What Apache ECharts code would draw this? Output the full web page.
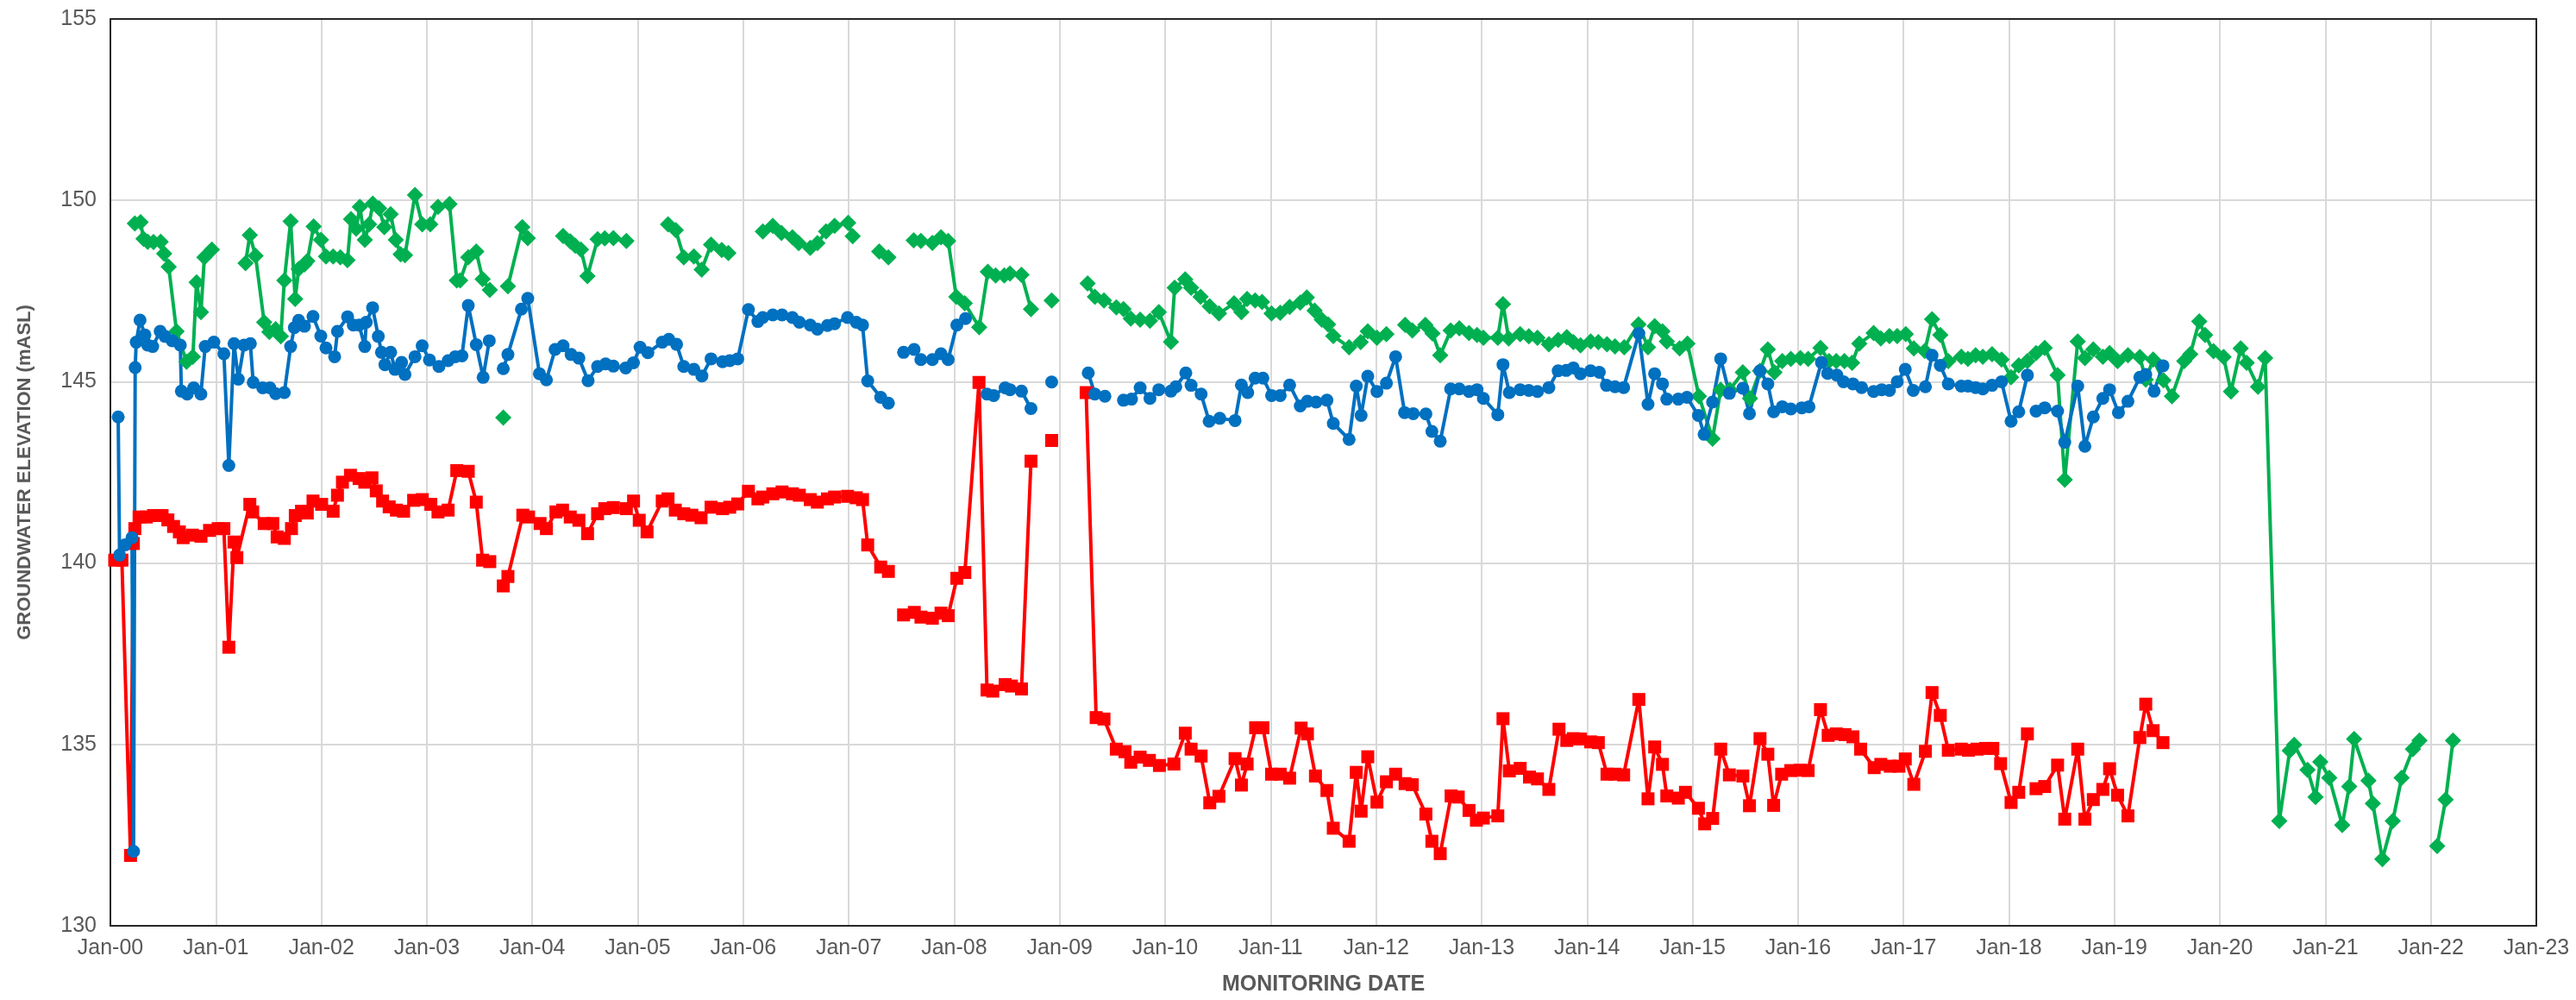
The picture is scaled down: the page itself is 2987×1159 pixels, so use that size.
<!DOCTYPE html>
<html>
<head>
<meta charset="utf-8">
<script src="https://cdn.jsdelivr.net/npm/echarts@6/dist/echarts.min.js"></script>
<style>
  html, body { margin: 0; padding: 0; background: #fff; }
  #chart { width: 2987px; height: 1159px; }
</style>
</head>
<body>
<div id="chart"></div>
<script>
// x = decimal year, y = groundwater elevation (mASL); null = no reading (line break)
const blueWell = [
  [2000.074,144.03],[2000.087,140.22],[2000.137,140.5],[2000.205,140.7],[2000.22,132.05],[2000.235,145.39],
  [2000.245,146.09],[2000.281,146.7],[2000.327,146.29],[2000.354,146.01],[2000.401,145.97],[2000.472,146.39],
  [2000.518,146.25],[2000.586,146.13],[2000.663,146.01],[2000.673,144.74],[2000.728,144.66],[2000.79,144.83],
  [2000.858,144.66],[2000.899,145.97],[2000.981,146.09],[2001.076,145.77],[2001.123,142.69],[2001.172,146.05],
  [2001.213,145.07],[2001.267,146.01],[2001.327,146.05],[2001.354,144.98],[2001.444,144.83],[2001.512,144.83],
  [2001.567,144.67],[2001.649,144.7],[2001.709,145.97],[2001.744,146.49],[2001.785,146.69],[2001.84,146.53],
  [2001.921,146.8],[2001.995,146.26],[2002.044,145.93],[2002.126,145.69],[2002.153,146.39],[2002.249,146.79],
  [2002.303,146.56],[2002.358,146.56],[2002.412,145.97],[2002.426,146.64],[2002.486,147.04],[2002.54,146.25],
  [2002.57,145.81],[2002.603,145.47],[2002.657,145.81],[2002.698,145.34],[2002.761,145.53],[2002.793,145.2],
  [2002.888,145.69],[2002.956,145.99],[2003.025,145.6],[2003.115,145.42],[2003.202,145.58],[2003.27,145.69],
  [2003.333,145.71],[2003.393,147.1],[2003.469,146.02],[2003.534,145.12],[2003.592,146.13],[2003.66,null],
  [2003.725,145.36],[2003.769,145.75],[2003.897,147.0],[2003.957,147.3],[2004.068,145.22],[2004.134,145.05],
  [2004.216,145.89],[2004.292,145.99],[2004.368,145.75],[2004.442,145.65],[2004.529,145.03],[2004.619,145.42],
  [2004.695,145.49],[2004.769,145.43],[2004.886,145.38],[2004.959,145.52],[2005.022,145.95],[2005.096,145.8],
  [2005.232,146.09],[2005.295,146.17],[2005.368,146.03],[2005.436,145.42],[2005.532,145.34],[2005.608,145.16],
  [2005.695,145.63],[2005.804,145.55],[2005.872,145.58],[2005.948,145.63],[2006.049,146.99],[2006.139,146.66],
  [2006.185,146.77],[2006.28,146.84],[2006.368,146.84],[2006.466,146.77],[2006.532,146.64],[2006.635,146.56],
  [2006.703,146.45],[2006.798,146.55],[2006.866,146.6],[2006.989,146.77],[2007.071,146.64],[2007.131,146.56],
  [2007.18,145.02],[2007.303,144.57],[2007.376,144.41],[2007.45,null],[2007.52,145.81],[2007.62,145.89],
  [2007.684,145.61],[2007.793,145.61],[2007.875,145.77],[2007.943,145.61],[2008.025,146.56],[2008.107,146.74],
  [2008.2,null],[2008.311,144.66],[2008.374,144.62],[2008.483,144.83],[2008.529,144.78],[2008.638,144.74],
  [2008.728,144.26],[2008.8,null],[2008.924,144.99],[2009.1,null],[2009.271,145.24],[2009.334,144.66],
  [2009.429,144.6],[2009.52,null],[2009.605,144.49],[2009.681,144.52],[2009.763,144.83],[2009.856,144.54],
  [2009.94,144.78],[2010.055,144.74],[2010.101,144.86],[2010.196,145.24],[2010.246,144.9],[2010.341,144.66],
  [2010.417,143.91],[2010.518,143.99],[2010.663,143.93],[2010.723,144.91],[2010.783,144.7],[2010.853,145.1],
  [2010.927,145.1],[2011.009,144.62],[2011.091,144.62],[2011.18,144.91],[2011.281,144.33],[2011.349,144.46],
  [2011.431,144.44],[2011.534,144.49],[2011.594,143.85],[2011.744,143.41],[2011.812,144.88],[2011.858,144.07],
  [2011.921,145.15],[2012.008,144.73],[2012.098,144.96],[2012.185,145.69],[2012.27,144.15],[2012.352,144.12],
  [2012.472,144.11],[2012.529,143.63],[2012.608,143.36],[2012.707,144.8],[2012.789,144.8],[2012.881,144.73],
  [2012.957,144.78],[2013.017,144.54],[2013.154,144.09],[2013.203,145.47],[2013.263,144.7],[2013.366,144.78],
  [2013.448,144.76],[2013.53,144.73],[2013.638,144.84],[2013.726,145.3],[2013.802,145.31],[2013.87,145.38],
  [2013.938,145.22],[2014.034,145.3],[2014.116,145.26],[2014.184,144.9],[2014.265,144.86],[2014.347,144.84],
  [2014.491,146.33],[2014.578,144.38],[2014.641,145.22],[2014.715,144.94],[2014.756,144.52],[2014.865,144.52],
  [2014.947,144.57],[2015.056,144.07],[2015.11,143.55],[2015.19,144.44],[2015.267,145.63],[2015.349,144.68],
  [2015.477,144.82],[2015.54,144.12],[2015.64,145.3],[2015.714,144.94],[2015.769,144.17],[2015.851,144.31],
  [2015.932,144.25],[2016.036,144.28],[2016.104,144.31],[2016.222,145.53],[2016.281,145.23],[2016.369,145.18],
  [2016.431,145.0],[2016.521,144.94],[2016.603,144.84],[2016.717,144.73],[2016.794,144.78],[2016.867,144.76],
  [2016.941,145.0],[2017.017,145.34],[2017.093,144.76],[2017.208,144.86],[2017.271,145.73],[2017.349,145.45],
  [2017.425,144.94],[2017.548,144.88],[2017.611,144.88],[2017.684,144.84],[2017.752,144.8],[2017.84,144.9],
  [2017.93,145.0],[2018.02,143.91],[2018.093,144.17],[2018.175,145.18],[2018.215,null],[2018.257,144.19],
  [2018.339,144.28],[2018.461,144.19],[2018.529,143.33],[2018.652,144.88],[2018.72,143.22],[2018.8,144.03],
  [2018.89,144.54],[2018.954,144.78],[2019.038,144.15],[2019.128,144.46],[2019.241,145.12],[2019.297,145.2],
  [2019.376,144.74],[2019.46,145.44]
];

const redWell = [
  [2000.041,140.08],[2000.109,140.08],[2000.191,131.94],[2000.218,140.54],[2000.232,140.95],[2000.272,141.27],
  [2000.341,141.27],[2000.409,141.31],[2000.49,141.31],[2000.545,141.19],[2000.599,141.01],[2000.654,140.86],
  [2000.69,140.7],[2000.777,140.77],[2000.859,140.74],[2000.94,140.9],[2001.022,140.95],[2001.076,140.95],
  [2001.123,137.68],[2001.172,140.58],[2001.199,140.15],[2001.322,141.62],[2001.349,141.41],[2001.458,141.09],
  [2001.54,141.09],[2001.581,140.72],[2001.649,140.68],[2001.717,140.95],[2001.753,141.31],[2001.812,141.43],
  [2001.867,141.38],[2001.921,141.71],[2002.003,141.62],[2002.112,141.43],[2002.153,141.87],[2002.2,142.23],
  [2002.276,142.42],[2002.358,142.33],[2002.412,142.23],[2002.48,142.35],[2002.521,141.99],[2002.581,141.71],
  [2002.643,141.55],[2002.712,141.46],[2002.78,141.43],[2002.875,141.73],[2002.957,141.75],[2003.038,141.62],
  [2003.106,141.41],[2003.202,141.46],[2003.284,142.55],[2003.393,142.53],[2003.469,141.68],[2003.529,140.08],
  [2003.597,140.04],[2003.66,null],[2003.725,139.37],[2003.769,139.63],[2003.91,141.32],[2003.965,141.27],
  [2004.074,141.09],[2004.134,140.95],[2004.224,141.41],[2004.287,141.46],[2004.36,141.27],[2004.442,141.18],
  [2004.524,140.81],[2004.619,141.36],[2004.687,141.5],[2004.769,141.53],[2004.892,141.5],[2004.96,141.71],
  [2005.014,141.18],[2005.088,140.86],[2005.232,141.71],[2005.287,141.77],[2005.356,141.46],[2005.436,141.36],
  [2005.513,141.32],[2005.6,141.25],[2005.695,141.54],[2005.804,141.5],[2005.872,141.54],[2005.948,141.63],
  [2006.049,141.98],[2006.139,141.77],[2006.185,141.82],[2006.28,141.91],[2006.368,141.96],[2006.466,141.91],
  [2006.532,141.87],[2006.635,141.75],[2006.703,141.68],[2006.798,141.77],[2006.866,141.82],[2006.989,141.84],
  [2007.071,141.8],[2007.131,141.75],[2007.18,140.5],[2007.303,139.89],[2007.376,139.77],[2007.45,null],
  [2007.52,138.57],[2007.622,138.64],[2007.685,138.51],[2007.793,138.48],[2007.875,138.62],[2007.943,138.55],
  [2008.025,139.58],[2008.101,139.74],[2008.235,144.98],[2008.311,136.5],[2008.366,136.47],[2008.483,136.65],
  [2008.543,136.61],[2008.638,136.53],[2008.728,142.81],[2008.8,null],[2008.924,143.38],[2009.1,null],
  [2009.251,144.7],[2009.346,135.74],[2009.42,135.7],[2009.537,134.87],[2009.619,134.8],[2009.674,134.51],
  [2009.763,134.65],[2009.851,134.56],[2009.946,134.42],[2010.083,134.46],[2010.191,135.31],[2010.246,134.87],
  [2010.341,134.68],[2010.423,133.39],[2010.51,133.57],[2010.663,134.61],[2010.723,133.88],[2010.777,134.46],
  [2010.858,135.46],[2010.927,135.46],[2011.009,134.18],[2011.091,134.18],[2011.18,134.07],[2011.289,135.45],
  [2011.349,135.29],[2011.425,134.13],[2011.534,133.73],[2011.594,132.69],[2011.744,132.33],[2011.812,134.23],
  [2011.858,133.16],[2011.921,134.66],[2012.008,133.41],[2012.098,133.97],[2012.185,134.18],[2012.275,133.92],
  [2012.343,133.89],[2012.472,133.08],[2012.529,132.33],[2012.608,131.99],[2012.711,133.58],[2012.779,133.55],
  [2012.881,133.18],[2012.951,132.91],[2013.017,132.97],[2013.154,133.03],[2013.203,135.71],[2013.263,134.27],
  [2013.366,134.34],[2013.454,134.1],[2013.53,134.05],[2013.638,133.76],[2013.734,135.42],[2013.808,135.11],
  [2013.87,135.16],[2013.938,135.15],[2014.034,135.07],[2014.107,135.05],[2014.189,134.18],[2014.265,134.18],
  [2014.347,134.16],[2014.491,136.24],[2014.578,133.5],[2014.641,134.93],[2014.715,134.45],[2014.756,133.58],
  [2014.865,133.52],[2014.933,133.68],[2015.056,133.24],[2015.115,132.81],[2015.191,132.96],[2015.267,134.87],
  [2015.349,134.16],[2015.477,134.13],[2015.54,133.31],[2015.64,135.16],[2015.714,134.73],[2015.769,133.32],
  [2015.845,134.18],[2015.932,134.28],[2016.022,134.29],[2016.096,134.28],[2016.213,135.96],[2016.286,135.25],
  [2016.363,135.29],[2016.445,135.27],[2016.521,135.21],[2016.594,134.87],[2016.722,134.36],[2016.785,134.45],
  [2016.875,134.4],[2016.957,134.4],[2017.017,134.6],[2017.098,133.9],[2017.208,134.81],[2017.271,136.43],
  [2017.349,135.8],[2017.425,134.84],[2017.548,134.87],[2017.616,134.84],[2017.697,134.87],[2017.779,134.89],
  [2017.847,134.89],[2017.921,134.47],[2018.02,133.4],[2018.093,133.68],[2018.175,135.29],[2018.215,null],
  [2018.257,133.78],[2018.339,133.84],[2018.461,134.43],[2018.529,132.94],[2018.652,134.87],[2018.72,132.94],
  [2018.8,133.48],[2018.89,133.76],[2018.954,134.33],[2019.03,133.6],[2019.128,133.03],[2019.241,135.19],
  [2019.297,136.11],[2019.367,135.38],[2019.46,135.05]
];

const greenWell = [
  [2000.232,149.36],[2000.286,149.4],[2000.314,148.94],[2000.354,148.86],[2000.409,148.85],[2000.477,148.86],
  [2000.51,148.53],[2000.553,148.17],[2000.627,146.39],[2000.722,145.55],[2000.782,145.69],[2000.817,147.74],
  [2000.859,146.92],[2000.891,148.43],[2000.962,148.64],[2001.1,null],[2001.281,148.27],[2001.322,149.04],
  [2001.376,148.47],[2001.458,146.64],[2001.507,146.37],[2001.567,146.45],[2001.616,146.25],[2001.649,147.79],
  [2001.709,149.42],[2001.752,147.28],[2001.785,148.11],[2001.84,148.23],[2001.867,148.33],[2001.927,149.28],
  [2001.997,148.91],[2002.044,148.45],[2002.112,148.45],[2002.18,148.43],[2002.248,148.35],[2002.281,149.48],
  [2002.33,149.22],[2002.365,149.82],[2002.412,148.91],[2002.453,149.34],[2002.488,149.91],[2002.548,149.78],
  [2002.597,149.26],[2002.657,149.62],[2002.706,148.91],[2002.752,148.51],[2002.793,148.49],[2002.888,150.15],
  [2002.957,149.34],[2003.033,149.34],[2003.106,149.82],[2003.215,149.9],[2003.284,147.79],[2003.316,147.79],
  [2003.393,148.43],[2003.469,148.59],[2003.529,147.83],[2003.597,147.53],[2003.66,null],[2003.725,144.01],
  [2003.745,null],[2003.769,147.63],[2003.905,149.26],[2003.957,148.96],[2004.1,null],[2004.292,149.02],
  [2004.36,148.87],[2004.407,148.75],[2004.461,148.64],[2004.523,147.91],[2004.619,148.93],[2004.687,148.95],
  [2004.769,148.96],[2004.892,148.88],[2005.1,null],[2005.287,149.34],[2005.36,149.18],[2005.436,148.43],
  [2005.532,148.45],[2005.606,148.09],[2005.695,148.78],[2005.796,148.63],[2005.859,148.55],[2006.0,null],
  [2006.186,149.14],[2006.28,149.3],[2006.362,149.1],[2006.466,148.98],[2006.526,148.82],[2006.635,148.69],
  [2006.703,148.82],[2006.785,149.14],[2006.866,149.3],[2006.995,149.38],[2007.038,149.01],[2007.15,null],
  [2007.289,148.59],[2007.376,148.43],[2007.5,null],[2007.616,148.9],[2007.684,148.88],[2007.793,148.83],
  [2007.875,148.98],[2007.943,148.88],[2008.02,147.34],[2008.1,147.16],[2008.237,146.5],[2008.319,148.03],
  [2008.393,147.93],[2008.475,147.93],[2008.529,147.98],[2008.638,147.95],[2008.728,147.0],[2008.8,null],
  [2008.924,147.24],[2009.1,null],[2009.265,147.71],[2009.334,147.34],[2009.42,147.24],[2009.537,147.05],
  [2009.605,147.0],[2009.674,146.74],[2009.763,146.71],[2009.856,146.68],[2009.94,146.92],[2010.055,146.1],
  [2010.09,147.59],[2010.19,147.82],[2010.246,147.59],[2010.336,147.34],[2010.422,147.08],[2010.51,146.88],
  [2010.654,147.16],[2010.723,146.92],[2010.777,147.28],[2010.853,147.24],[2010.919,147.2],[2011.009,146.88],
  [2011.091,146.9],[2011.18,147.06],[2011.281,147.18],[2011.343,147.32],[2011.417,146.96],[2011.485,146.71],
  [2011.545,146.58],[2011.594,146.26],[2011.744,145.95],[2011.854,146.09],[2011.921,146.39],[2012.008,146.21],
  [2012.098,146.31],[2012.19,null],[2012.275,146.57],[2012.343,146.41],[2012.467,146.57],[2012.535,146.33],
  [2012.608,145.73],[2012.707,146.41],[2012.789,146.47],[2012.881,146.34],[2012.957,146.29],[2013.017,146.21],
  [2013.154,146.21],[2013.203,147.14],[2013.257,146.19],[2013.366,146.31],[2013.448,146.25],[2013.53,146.21],
  [2013.638,146.03],[2013.726,146.15],[2013.808,146.23],[2013.87,146.09],[2013.938,146.0],[2014.034,146.11],
  [2014.107,146.09],[2014.189,146.03],[2014.265,145.97],[2014.352,145.95],[2014.488,146.58],[2014.578,145.95],
  [2014.641,146.53],[2014.715,146.39],[2014.756,146.11],[2014.878,145.92],[2014.952,146.05],[2015.061,144.6],
  [2015.19,143.43],[2015.267,144.78],[2015.354,144.78],[2015.477,145.26],[2015.545,144.54],[2015.64,145.3],
  [2015.714,145.89],[2015.777,145.26],[2015.851,145.57],[2015.932,145.63],[2016.022,145.65],[2016.096,145.63],
  [2016.213,145.93],[2016.295,145.57],[2016.363,145.57],[2016.44,145.57],[2016.513,145.52],[2016.581,146.05],
  [2016.717,146.34],[2016.785,146.19],[2016.867,146.26],[2016.941,146.26],[2017.022,146.31],[2017.098,145.92],
  [2017.202,145.85],[2017.271,146.72],[2017.349,146.29],[2017.425,145.57],[2017.548,145.69],[2017.611,145.63],
  [2017.684,145.73],[2017.752,145.69],[2017.84,145.76],[2017.93,145.61],[2018.02,145.12],[2018.093,145.45],
  [2018.175,145.57],[2018.257,145.79],[2018.339,145.93],[2018.461,145.18],[2018.529,142.3],[2018.652,146.11],
  [2018.72,145.65],[2018.8,145.89],[2018.89,145.69],[2018.954,145.79],[2019.03,145.57],[2019.128,145.73],
  [2019.241,145.68],[2019.297,145.06],[2019.367,145.61],[2019.465,145.04],[2019.545,144.6],[2019.662,145.57],
  [2019.719,145.76],[2019.804,146.66],[2019.86,146.29],[2019.939,145.84],[2020.035,145.68],[2020.105,144.73],
  [2020.197,145.92],[2020.254,145.52],[2020.361,144.86],[2020.429,145.65],[2020.563,132.89],[2020.662,134.83],
  [2020.704,134.99],[2020.831,134.3],[2020.907,133.55],[2020.952,134.52],[2021.037,134.08],[2021.16,132.78],
  [2021.226,133.84],[2021.273,135.15],[2021.408,134.0],[2021.45,133.37],[2021.54,131.84],[2021.639,132.89],
  [2021.723,134.08],[2021.83,134.87],[2021.892,135.11],[2021.97,null],[2022.06,132.2],[2022.14,133.48],
  [2022.21,135.11]
];

const yearMin = 2000, yearMax = 2023;
const elevMin = 130, elevMax = 155, elevStep = 5;

const FONT = '"Liberation Sans", Arial, sans-serif';
const TEXT = '#595959';
const GRIDLINE = '#D9D9D9';
const FRAME = '#262626';

const chart = echarts.init(document.getElementById('chart'), null, { renderer: 'canvas' });

function yearLabel(v) {
  return 'Jan-' + String(v % 100).padStart(2, '0');
}

function well(name, data, color, symbol, size) {
  return {
    name,
    type: 'line',
    data,
    symbol,
    symbolSize: size,
    showSymbol: true,
    connectNulls: false,
    lineStyle: { color, width: 4 },
    itemStyle: { color },
    emphasis: { disabled: true }
  };
}

chart.setOption({
  animation: false,
  backgroundColor: '#fff',
  textStyle: { fontFamily: FONT },
  grid: { left: 128, right: 46, top: 22, bottom: 86 },
  xAxis: [
    {
      type: 'value',
      min: yearMin, max: yearMax, interval: 1,
      name: 'MONITORING DATE',
      nameLocation: 'middle',
      nameGap: 56,
      nameTextStyle: { color: TEXT, fontSize: 25, fontWeight: 'bold', fontFamily: FONT },
      axisLine: { lineStyle: { color: FRAME, width: 2 } },
      axisTick: { show: false },
      axisLabel: { color: TEXT, fontSize: 25, margin: 14, formatter: yearLabel, fontFamily: FONT },
      splitLine: { lineStyle: { color: GRIDLINE, width: 2 } }
    },
    {
      type: 'value', position: 'top',
      min: yearMin, max: yearMax, interval: 1,
      axisLine: { show: true, onZero: false, lineStyle: { color: FRAME, width: 2 } },
      axisTick: { show: false }, axisLabel: { show: false }, splitLine: { show: false }
    }
  ],
  yAxis: [
    {
      type: 'value',
      min: elevMin, max: elevMax, interval: elevStep,
      name: 'GROUNDWATER ELEVATION (mASL)',
      nameLocation: 'middle',
      nameGap: 88,
      nameRotate: 90,
      nameTextStyle: { color: TEXT, fontSize: 22, fontWeight: 'bold', fontFamily: FONT },
      axisLine: { show: true, lineStyle: { color: FRAME, width: 2 } },
      axisTick: { show: false },
      axisLabel: { color: TEXT, fontSize: 25, margin: 16, fontFamily: FONT },
      splitLine: { lineStyle: { color: GRIDLINE, width: 2 } }
    },
    {
      type: 'value', position: 'right',
      min: elevMin, max: elevMax, interval: elevStep,
      axisLine: { show: true, onZero: false, lineStyle: { color: FRAME, width: 2 } },
      axisTick: { show: false }, axisLabel: { show: false }, splitLine: { show: false }
    }
  ],
  series: [
    well('Well 3', greenWell, '#00B050', 'diamond', 19),
    well('Well 2', redWell, '#FF0000', 'rect', 15),
    well('Well 1', blueWell, '#0070C0', 'circle', 15)
  ]
});
</script>
</body>
</html>
